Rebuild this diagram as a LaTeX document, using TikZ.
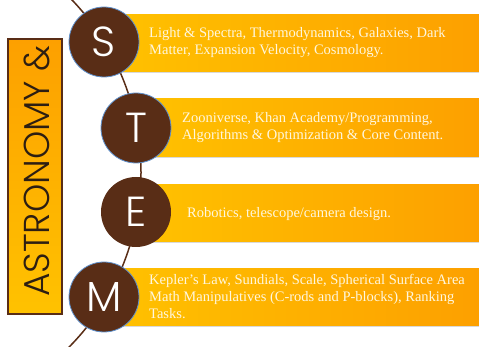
\documentclass[tikz,border=0pt]{standalone}
\usepackage{fontspec}
\setmainfont{Liberation Serif}
\newfontfamily\lettfont{Poppins Light}
\usetikzlibrary{positioning}

\definecolor{brownS}{RGB}{89,45,22}
\definecolor{goldL}{RGB}{255,194,0}
\definecolor{goldR}{RGB}{253,160,0}
\definecolor{cream}{RGB}{255,247,222}
\definecolor{rimblue}{RGB}{95,145,205}
\definecolor{inkdark}{RGB}{45,30,18}

\tikzset{
  letter/.style={circle, fill=brownS, minimum size=70pt, inner sep=0pt, text=white,
    font=\lettfont\fontsize{42}{42}\selectfont},
  rim/.style={draw=rimblue, line width=0.8pt},
  bar/.style={left color=goldL, right color=goldR},
  barshadow/.style={black!15, line width=1pt},
  bartext/.style={anchor=west, align=left, text=cream, inner sep=0pt,
    font=\fontsize{14.5}{17}\selectfont},
}

\begin{document}
\begin{tikzpicture}[x=1pt,y=1pt]
\useasboundingbox (0,0) rectangle (479,347);

% bars
\shade[bar] (104,275) rectangle (479,332);
\shade[bar] (136,190) rectangle (479,248);
\shade[bar] (136,105) rectangle (479,162);
\shade[bar] (104,21) rectangle (479,78);
\draw[barshadow] (104,274.5) -- (479,274.5);
\draw[barshadow] (136,189.5) -- (479,189.5);
\draw[barshadow] (136,104.5) -- (479,104.5);
\draw[barshadow] (104,20.5) -- (479,20.5);

% spine
\draw[brownS, line width=1.5pt] ([shift={(-46:249)}]-108,175) arc[start angle=-46, end angle=46, radius=249];

\node[letter, rim] (S) at (104,305) {S};
\node[letter, rim] (T) at (136,219) {T};
\node[letter] (E) at (136,135) {E};
\node[letter, rim] (M) at (104,50) {M};

\node[bartext] (txtS) at (149,304) {Light \& Spectra, Thermodynamics, Galaxies, Dark\\Matter, Expansion Velocity, Cosmology.};
\node[bartext] (txtT) at (182,219) {Zooniverse, Khan Academy/Programming,\\Algorithms \& Optimization \& Core Content.};
\node[bartext] (txtE) at (187,133) {Robotics, telescope/camera design.};
\node[bartext] (txtM) at (149,50) {Kepler's Law, Sundials, Scale, Spherical Surface Area\\Math Manipulatives (C-rods and P-blocks), Ranking\\Tasks.};

% side box
\node[draw=brownS, line width=2.5pt, top color=goldR, bottom color=goldL,
  minimum width=54pt, minimum height=275pt, inner sep=0pt] (box) at (35,170.5) {};
\node[rotate=90, text=inkdark, font=\lettfont\fontsize{36}{36}\selectfont] (title) at (37,176) {ASTRONOMY \&};

\end{tikzpicture}
\end{document}
